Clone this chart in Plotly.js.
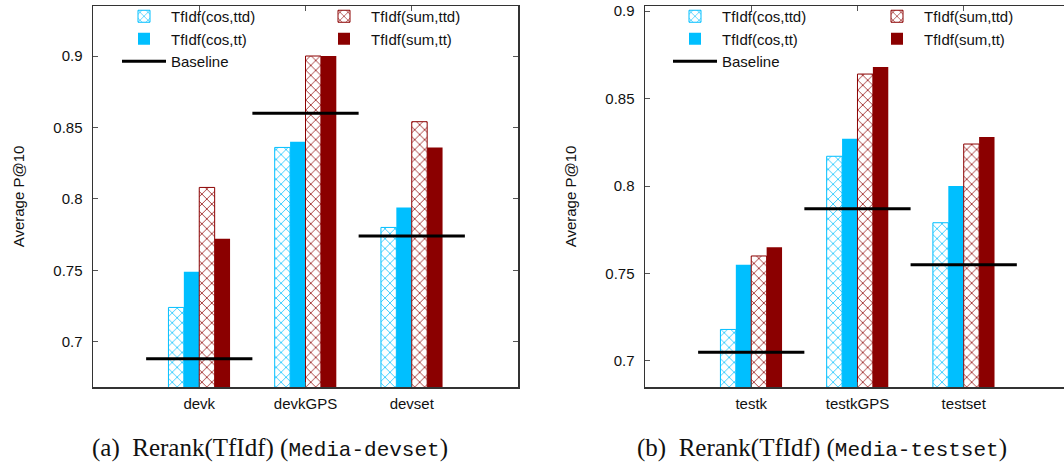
<!DOCTYPE html>
<html>
<head>
<meta charset="utf-8">
<script src="https://cdn.plot.ly/plotly-3.0.1.min.js"></script>
<style>html,body{margin:0;padding:0;background:#fff;}#chart{width:1064px;height:465px;}</style>
</head>
<body>
<div id="chart"></div>
<script>
// ---- data ----
const categoriesDev = ['devk', 'devkGPS', 'devset'];
const categoriesTest = ['testk', 'testkGPS', 'testset'];
const seriesNames = ['TfIdf(cos,ttd)', 'TfIdf(cos,tt)', 'TfIdf(sum,ttd)', 'TfIdf(sum,tt)'];
const baselineName = 'Baseline';

const devCosTtd = [0.724, 0.836, 0.780];
const devCosTt  = [0.749, 0.840, 0.794];
const devSumTtd = [0.808, 0.900, 0.854];
const devSumTt  = [0.772, 0.900, 0.836];
const devBaseline = [0.688, 0.860, 0.774];

const testCosTtd = [0.718, 0.817, 0.779];
const testCosTt  = [0.755, 0.827, 0.800];
const testSumTtd = [0.760, 0.864, 0.824];
const testSumTt  = [0.765, 0.868, 0.828];
const testBaseline = [0.705, 0.787, 0.755];

const captionA = '(a)&nbsp;&nbsp;Rerank(TfIdf) (<span style="font-family:\'Liberation Mono\',monospace;font-size:21px">Media-devset</span>)';
const captionB = '(b)&nbsp;&nbsp;Rerank(TfIdf) (<span style="font-family:\'Liberation Mono\',monospace;font-size:21px">Media-testset</span>)';

// ---- styles ----
const CYAN = '#00bfff';
const RED = '#8b0000';
const styles = [
  {color: CYAN, hatch: true},
  {color: CYAN, hatch: false},
  {color: RED, hatch: true},
  {color: RED, hatch: false}
];

function barTrace(values, idx, cats, xa, ya, legendCol1, legendCol2) {
  const st = styles[idx];
  const marker = st.hatch
    ? {color: 'white', line: {color: st.color, width: 1},
       pattern: {shape: 'x', fgcolor: st.color, bgcolor: 'white', size: 7, solidity: 0.2, fillmode: 'replace'}}
    : {color: st.color, line: {color: st.color, width: 0}};
  return {
    type: 'bar',
    name: seriesNames[idx],
    x: cats.map((c, i) => i),
    y: values,
    xaxis: xa, yaxis: ya,
    marker: marker,
    legend: idx < 2 ? legendCol1 : legendCol2,
    hoverinfo: 'y'
  };
}

function baselineTrace(values, cats, xa, ya, legendCol1) {
  const xs = [], ys = [];
  values.forEach((v, i) => { xs.push(i - 0.5, i + 0.5, null); ys.push(v, v, null); });
  return {
    type: 'scatter', mode: 'lines', name: baselineName,
    x: xs, y: ys, xaxis: xa, yaxis: ya,
    line: {color: 'black', width: 3},
    legend: legendCol1,
    hoverinfo: 'y'
  };
}

const devSeries = [devCosTtd, devCosTt, devSumTtd, devSumTt];
const testSeries = [testCosTtd, testCosTt, testSumTtd, testSumTt];

const traces = [];
devSeries.forEach((s, i) => traces.push(barTrace(s, i, categoriesDev, 'x', 'y', 'legend', 'legend2')));
traces.push(baselineTrace(devBaseline, categoriesDev, 'x', 'y', 'legend'));
testSeries.forEach((s, i) => traces.push(barTrace(s, i, categoriesTest, 'x2', 'y2', 'legend3', 'legend4')));
traces.push(baselineTrace(testBaseline, categoriesTest, 'x2', 'y2', 'legend3'));

const axisFont = {family: 'Liberation Sans, Arial, sans-serif', size: 15, color: '#111'};
const titleFont = {family: 'Liberation Sans, Arial, sans-serif', size: 15, color: '#111'};
const W = 1064, H = 465;
const mL = 93, mR = 0, mT = 6, mB = 78;
const plotW = W - mL - mR;
const plotH = H - mT - mB;

function xAxis(cats, domain, range, anchor) {
  return {
    domain: domain, range: range, anchor: anchor,
    tickvals: cats.map((c, i) => i), ticktext: cats,
    ticks: 'inside', ticklen: 5, tickcolor: '#555', tickwidth: 1,
    showline: true, linecolor: '#333', linewidth: 1.5, mirror: 'ticks',
    showgrid: false, zeroline: false, tickfont: axisFont, tickangle: 0,
    ticklabelstandoff: 2, fixedrange: true
  };
}
function yAxis(range, anchor, mirror) {
  return {
    range: range, anchor: anchor, tick0: 0.7, dtick: 0.05,
    ticks: 'inside', ticklen: 5, tickcolor: '#555', tickwidth: 1,
    showline: true, linecolor: '#333', linewidth: 1.5, mirror: mirror,
    showgrid: false, zeroline: false, tickfont: axisFont,
    ticklabelstandoff: 6,
    title: {text: 'Average P@10', font: titleFont, standoff: 25},
    fixedrange: true
  };
}

const legendBase = {
  xref: 'paper', yref: 'paper', xanchor: 'left', yanchor: 'top',
  orientation: 'v', bgcolor: 'rgba(0,0,0,0)', borderwidth: 0,
  font: {family: 'Liberation Sans, Arial, sans-serif', size: 15, color: '#111'},
  itemwidth: 44, tracegroupgap: 0, y: 1 + 6 / plotH
};

const layout = {
  width: W, height: H,
  margin: {l: mL, r: mR, t: mT, b: mB, pad: 0, autoexpand: false},
  paper_bgcolor: 'white', plot_bgcolor: 'white',
  barmode: 'group', bargap: 0.42, bargroupgap: 0,
  showlegend: true,
  xaxis: xAxis(categoriesDev, [0, 425 / plotW], [-1, 3], 'y'),
  yaxis: yAxis([0.6683, 0.935], 'x', 'ticks'),
  xaxis2: xAxis(categoriesTest, [552 / plotW, 1], [-1, 2.944], 'y2'),
  yaxis2: yAxis([0.6851, 0.9029], 'x2', false),
  legend: Object.assign({}, legendBase, {x: (117 - mL) / plotW}),
  legend2: Object.assign({}, legendBase, {x: (317 - mL) / plotW}),
  legend3: Object.assign({}, legendBase, {x: (668 - mL) / plotW}),
  legend4: Object.assign({}, legendBase, {x: (870 - mL) / plotW}),
  annotations: [
    {text: captionA, xref: 'paper', yref: 'paper', x: (270 - mL) / plotW, y: -(448 - 387) / plotH,
     xanchor: 'center', yanchor: 'middle', showarrow: false,
     font: {family: 'Liberation Serif, Times New Roman, serif', size: 25, color: '#111'}},
    {text: captionB, xref: 'paper', yref: 'paper', x: (822 - mL) / plotW, y: -(448 - 387) / plotH,
     xanchor: 'center', yanchor: 'middle', showarrow: false,
     font: {family: 'Liberation Serif, Times New Roman, serif', size: 25, color: '#111'}}
  ]
};

Plotly.newPlot('chart', traces, layout, {displayModeBar: false, staticPlot: true});
</script>
</body>
</html>
